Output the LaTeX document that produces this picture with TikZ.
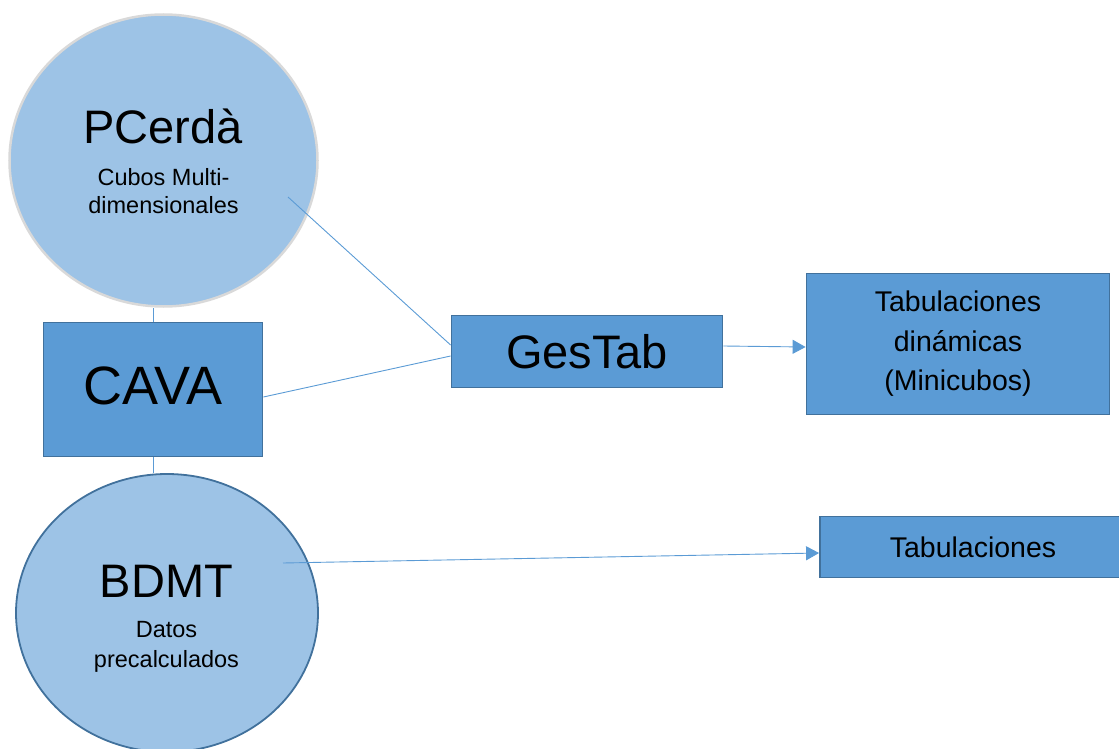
\documentclass[tikz,border=0pt]{standalone}
\usepackage{fontspec}
\setmainfont{Liberation Sans}
\usetikzlibrary{shapes.geometric,arrows.meta}
\definecolor{bubblefill}{HTML}{9DC3E6}
\definecolor{boxfill}{HTML}{5B9BD5}
\definecolor{boxline}{HTML}{41719C}
\definecolor{linkblue}{HTML}{5B9BD5}
\definecolor{rimgray}{HTML}{D9D9D9}
\tikzstyle{bubble} = [ellipse, fill=bubblefill, inner sep=0pt]
\tikzstyle{box} = [rectangle, draw=boxline, fill=boxfill, line width=1.8pt, align=center, inner sep=0pt]
\tikzstyle{link} = [draw=linkblue, line width=0.9pt]
\tikzstyle{flow} = [link, -{Triangle[length=13pt,width=14pt]}]
\newcommand{\bigtxt}{\fontsize{47}{56}\selectfont}
\newcommand{\cavatxt}{\fontsize{54}{64}\selectfont}
\newcommand{\subtxt}{\fontsize{23.5}{28}\selectfont}
\newcommand{\boxtxt}{\fontsize{28.5}{39.5}\selectfont}

\begin{document}
\begin{tikzpicture}[x=1pt,y=-1pt]
	\useasboundingbox (0,0) rectangle (1119,749);
	% circles
	\node [bubble, draw=rimgray, line width=2.5pt, minimum width=308pt, minimum height=292pt] (pc) at (163.5,160.5) {};
	\node [bubble, draw=boxline, line width=1.8pt, minimum width=302pt, minimum height=278pt] (bd) at (167,613) {};
	\node [anchor=base, font=\bigtxt] (pctitle) at (163,143) {PCerdà};
	\node [anchor=base, font=\subtxt] (pcsuba) at (163.5,185) {Cubos Multi-};
	\node [anchor=base, font=\subtxt] (pcsubb) at (163.5,213) {dimensionales};
	\node [anchor=base, font=\bigtxt] (bdtitle) at (166.5,597) {BDMT};
	\node [anchor=base, font=\subtxt] (bdsuba) at (166.5,637) {Datos};
	\node [anchor=base, font=\subtxt] (bdsubb) at (166.5,667) {precalculados};
	% boxes
	\node [box, font=\cavatxt, text depth=8pt, minimum width=219pt, minimum height=134pt] (cava) at (153,389.5) {CAVA};
	\node [box, font=\bigtxt, minimum width=271pt, minimum height=72pt] (gestab) at (587,351.5) {GesTab};
	\node [box, font=\boxtxt, minimum width=303pt, minimum height=141pt] (tabdyn) at (958,344) {Tabulaciones\\dinámicas\\(Minicubos)};
	\node [box, font=\boxtxt, minimum width=306pt, minimum height=61pt] (tab) at (973,547) {Tabulaciones};
	% connectors
	\coordinate (pcout) at (288,197);
	\coordinate (bdout) at (283,563);
	\draw [link] (cava.north) -- (cava.north |- pc.south);
	\draw [link] (cava.south) -- (cava.south |- bd.north);
	\draw [link] (pcout) -- ([yshift=6.5pt]gestab.west);
	\draw [link] ([yshift=-7.5pt]cava.east) -- ([yshift=-4.5pt]gestab.west);
	\draw [flow] ([yshift=5.5pt]gestab.east) -- ([yshift=-3pt]tabdyn.west);
	\draw [flow] (bdout) -- ([yshift=-6pt]tab.west);
\end{tikzpicture}
\end{document}
